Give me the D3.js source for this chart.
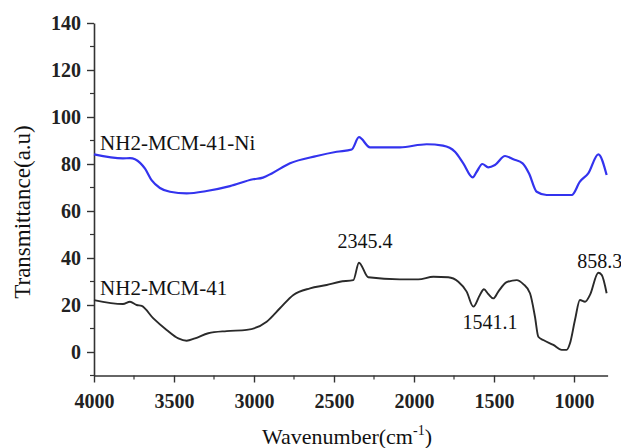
<!DOCTYPE html>
<html>
<head>
<meta charset="utf-8">
<script src="https://cdn.jsdelivr.net/npm/d3@7"></script>
<style>
  html, body { margin: 0; padding: 0; background: #fff; }
  svg { display: block; font-family: 'Liberation Serif', 'Times New Roman', serif; }
</style>
</head>
<body>
<svg id="chart" width="621" height="448"></svg>
<script>
// wavenumbers (cm-1) and transmittance
const niWave = [4000, 3819, 3775, 3712, 3681, 3639, 3588, 3525, 3421, 3296, 3150, 3006, 2944, 2889, 2775, 2608, 2483, 2389, 2344, 2275, 2088, 1921, 1819, 1744, 1692, 1633, 1608, 1573, 1536, 1494, 1431, 1379, 1321, 1281, 1233, 1171, 1014, 963, 911, 848, 796];
const niValues = [84.1, 82.4, 82.5, 80.5, 78, 73, 69.8, 68.2, 67.5, 68.5, 70.6, 73.5, 74.2, 76, 80.3, 83.4, 85.2, 86.2, 91.4, 87.1, 87.1, 88.4, 87.8, 85.2, 80.3, 74.3, 76.7, 80, 78.6, 79.6, 83.4, 82, 80.3, 76, 68.2, 66.8, 66.8, 72.5, 76, 84.1, 75.3];

const mcmWave = [4000, 3819, 3775, 3733, 3702, 3629, 3546, 3473, 3421, 3369, 3286, 3171, 3046, 2921, 2838, 2754, 2650, 2546, 2463, 2379, 2344, 2286, 2088, 1973, 1879, 1786, 1723, 1671, 1629, 1588, 1563, 1536, 1504, 1473, 1421, 1358, 1317, 1275, 1244, 1223, 1192, 1129, 1077, 1046, 1025, 994, 963, 931, 900, 848, 827, 796];
const mcmValues = [22.1, 20.4, 21.4, 20, 19.6, 14.3, 9.4, 5.8, 4.8, 5.8, 8, 8.9, 9.4, 12.9, 18.6, 24.3, 27.1, 28.5, 29.9, 30.6, 38, 31.8, 30.9, 30.9, 32, 31.8, 29.9, 25.7, 19.3, 24.3, 26.7, 24.7, 22.8, 25.7, 29.7, 30.6, 28.9, 25, 15, 6.5, 5.1, 3, 0.9, 0.9, 3.7, 13.6, 22.1, 21.4, 24.3, 33.7, 32.8, 25];

const xTicks = [4000, 3500, 3000, 2500, 2000, 1500, 1000];
const xMinor = [3750, 3250, 2750, 2250, 1750, 1250];
const yTicks = [0, 20, 40, 60, 80, 100, 120, 140];
const yMinor = [-10, 10, 30, 50, 70, 90, 110, 130];

const seriesLabels = [
  { text: 'NH2-MCM-41-Ni', w: 3962, v: 88.9 },
  { text: 'NH2-MCM-41', w: 3962, v: 27.2 }
];
const peakLabels = [
  { text: '2345.4', w: 2306, v: 47.2 },
  { text: '1541.1', w: 1525, v: 12.9 },
  { text: '858.3', w: 839, v: 38.7 }
];

const svg = d3.select('#chart');
const margin = { top: 23, right: 13.4, bottom: 72.5, left: 94 };
const width = 621, height = 448;

const x = d3.scaleLinear().domain([4000, 790]).range([margin.left, width - margin.right]);
const y = d3.scaleLinear().domain([-10, 140]).range([height - margin.bottom, margin.top]);

const axisColor = '#333';

// x axis
const xAxis = svg.append('g')
  .attr('transform', `translate(0,${y(-10)})`)
  .call(d3.axisBottom(x).tickValues(xTicks).tickSize(7).tickSizeOuter(0).tickFormat(d3.format('d')));
xAxis.append('g').selectAll('line').data(xMinor).join('line')
  .attr('x1', d => x(d)).attr('x2', d => x(d)).attr('y1', 0).attr('y2', 4)
  .attr('stroke', axisColor).attr('stroke-width', 1.2);
xAxis.selectAll('.tick text').attr('y', 14).attr('dy', '0.9em');

// y axis
const yAxis = svg.append('g')
  .attr('transform', `translate(${x(4000)},0)`)
  .call(d3.axisLeft(y).tickValues(yTicks).tickSize(7).tickSizeOuter(0));
yAxis.append('g').selectAll('line').data(yMinor).join('line')
  .attr('y1', d => y(d)).attr('y2', d => y(d)).attr('x1', 0).attr('x2', -4)
  .attr('stroke', axisColor).attr('stroke-width', 1.2);
yAxis.selectAll('.tick text').attr('x', -13);

svg.selectAll('.domain').attr('stroke', axisColor).attr('stroke-width', 1.6);
svg.selectAll('.tick line').attr('stroke', axisColor).attr('stroke-width', 1.4);
svg.selectAll('.tick text')
  .style('font-family', "'Liberation Serif', serif")
  .style('font-size', '20px')
  .style('font-weight', 'bold')
  .attr('fill', '#222');

const line = d3.line().x(d => x(d[0])).y(d => y(d[1])).curve(d3.curveMonotoneX);

svg.append('path')
  .datum(d3.zip(niWave, niValues))
  .attr('fill', 'none').attr('stroke', '#3333ee').attr('stroke-width', 2.2)
  .attr('d', line);

svg.append('path')
  .datum(d3.zip(mcmWave, mcmValues))
  .attr('fill', 'none').attr('stroke', '#2a2a2a').attr('stroke-width', 1.9)
  .attr('d', line);

// series labels
svg.selectAll('.series-label').data(seriesLabels).join('text')
  .attr('class', 'series-label')
  .attr('x', d => x(d.w)).attr('y', d => y(d.v)).attr('dy', '0.35em')
  .style('font-size', '21px').attr('fill', '#111')
  .text(d => d.text);

// peak annotations
svg.selectAll('.peak-label').data(peakLabels).join('text')
  .attr('class', 'peak-label')
  .attr('x', d => x(d.w)).attr('y', d => y(d.v)).attr('dy', '0.35em')
  .attr('text-anchor', 'middle')
  .style('font-size', '20px').attr('fill', '#111')
  .text(d => d.text);

// axis titles
svg.append('text')
  .attr('transform', 'translate(22,212) rotate(-90)')
  .attr('text-anchor', 'middle').attr('dy', '0.35em')
  .style('font-size', '23px').attr('fill', '#111')
  .text('Transmittance(a.u)');

const xTitle = svg.append('text')
  .attr('x', 347).attr('y', 444)
  .attr('text-anchor', 'middle')
  .style('font-size', '22px').attr('fill', '#111');
xTitle.append('tspan').text('Wavenumber(cm');
xTitle.append('tspan').attr('dy', -9).style('font-size', '14px').text('-1');
xTitle.append('tspan').attr('dy', 9).text(')');
</script>
</body>
</html>
